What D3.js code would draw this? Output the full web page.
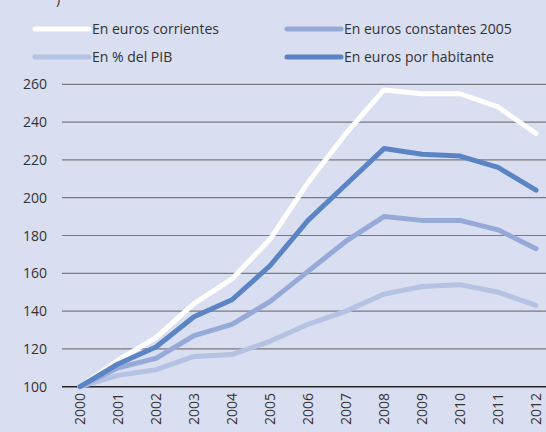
<!DOCTYPE html>
<html lang="es">
<head>
<meta charset="utf-8">
<script src="https://d3js.org/d3.v7.min.js"></script>
<style>
  body { margin: 0; background: #D9DEF0; }
  svg { display: block; font-family: "Open Sans", "Noto Sans", sans-serif; }
</style>
</head>
<body>
<svg id="chart"></svg>
<script>
// data (index 2000 = 100)
var years = [2000, 2001, 2002, 2003, 2004, 2005, 2006, 2007, 2008, 2009, 2010, 2011, 2012];
var corrientes = [100, 114, 126, 144, 157, 178, 208, 234, 257, 255, 255, 248, 234];
var constantes = [100, 110, 115, 127, 133, 145, 161, 177, 190, 188, 188, 183, 173];
var pib        = [100, 106, 109, 116, 117, 124, 133, 140, 149, 153, 154, 150, 143];
var habitante  = [100, 112, 121, 137, 146, 164, 188, 207, 226, 223, 222, 216, 204];
var yTicks = [100, 120, 140, 160, 180, 200, 220, 240, 260];

var seriesNames = ["En euros corrientes", "En euros constantes 2005", "En % del PIB", "En euros por habitante"];
var seriesColors = ["#FFFFFF", "#95AAD8", "#B4C2E3", "#5B84C4"];
var seriesData = [corrientes, constantes, pib, habitante];

var width = 546, height = 432;
var svg = d3.select("#chart").attr("width", width).attr("height", height);

svg.append("rect").attr("width", width).attr("height", height).attr("fill", "#D9DEF0");

// cut-off title remnant at top
svg.append("text").attr("x", 56).attr("y", 4).attr("font-size", 14).attr("fill", "#333").text(")");

var x = d3.scalePoint().domain(years).range([80, 536]);
var y = d3.scaleLinear().domain([100, 260]).range([386.7, 84.3]);

// gridlines
svg.append("g").selectAll("line")
  .data(yTicks)
  .enter()
  .append("line")
  .attr("x1", 62)
  .attr("x2", width)
  .attr("y1", function(d) { return y(d); })
  .attr("y2", function(d) { return y(d); })
  .attr("stroke", function(d) { return d == 100 ? "#222" : "#7a7a80"; })
  .attr("stroke-width", function(d) { return d == 100 ? 1.5 : 1.2; });

// y labels
svg.append("g").selectAll("text")
  .data(yTicks)
  .enter()
  .append("text")
  .attr("x", 47)
  .attr("y", function(d) { return y(d) + 5; })
  .attr("text-anchor", "end")
  .attr("font-size", 14)
  .attr("fill", "#333")
  .text(function(d) { return d; });

// x labels rotated
svg.append("g").selectAll("text")
  .data(years)
  .enter()
  .append("text")
  .attr("transform", function(d) { return "translate(" + (x(d) + 5) + ",393) rotate(-90)"; })
  .attr("text-anchor", "end")
  .attr("font-size", 14)
  .attr("fill", "#333")
  .text(function(d) { return d; });

// lines, draw in order so dark is on top
var line = d3.line()
  .x(function(d, i) { return x(years[i]); })
  .y(function(d) { return y(d); });

var order = [2, 1, 0, 3];
order.forEach(function(k) {
  svg.append("path")
    .datum(seriesData[k])
    .attr("d", line)
    .attr("fill", "none")
    .attr("stroke", seriesColors[k])
    .attr("stroke-width", 5)
    .attr("stroke-linejoin", "round")
    .attr("stroke-linecap", "round");
});

// legend
var legendPos = [[35, 29], [287, 29], [35, 57], [287, 57]];
var legend = svg.append("g");
legend.selectAll("g")
  .data(seriesNames)
  .enter()
  .append("g")
  .each(function(d, i) {
    var g = d3.select(this);
    var p = legendPos[i];
    g.append("line")
      .attr("x1", p[0]).attr("x2", p[0] + 54)
      .attr("y1", p[1]).attr("y2", p[1])
      .attr("stroke", seriesColors[i])
      .attr("stroke-width", 5)
      .attr("stroke-linecap", "round");
    g.append("text")
      .attr("x", p[0] + 57)
      .attr("y", p[1] + 5)
      .attr("font-size", 14)
      .attr("fill", "#333")
      .text(d);
  });
</script>
</body>
</html>
